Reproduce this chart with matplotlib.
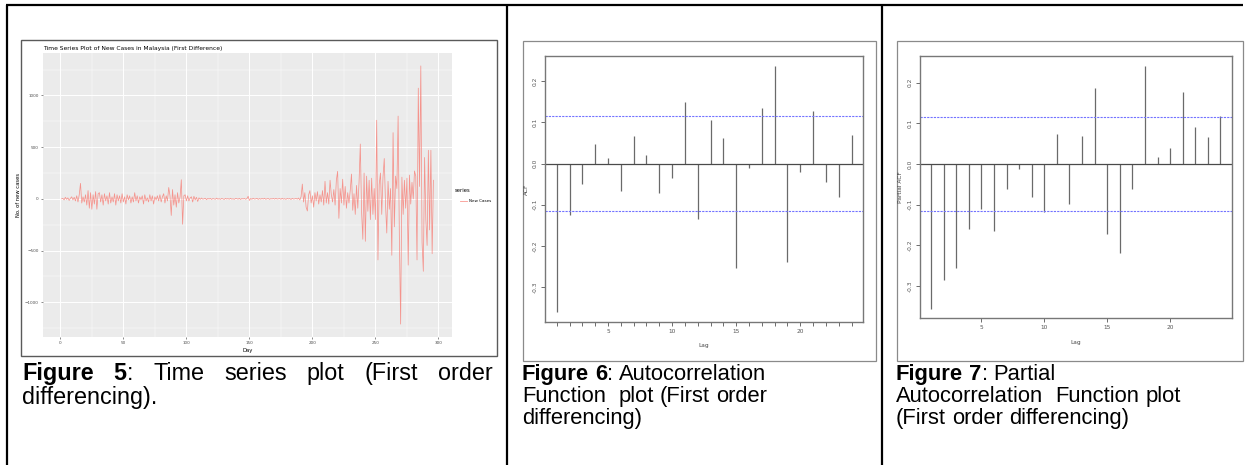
import numpy as np
import matplotlib
matplotlib.use("Agg")
import matplotlib.pyplot as plt
from matplotlib.patches import Rectangle
from matplotlib.ticker import FormatStrFormatter

W, H = 1249, 465

# first difference of daily new cases
new_cases_diff = [
    0, 5, -10, 15, -5, 10, -15, 5, 20, -10, 15, -20, 30,
    -30, 40, 150, -40, 20, -30, 40,
    -60, 80, -90, 60, -100, 40, -50, 70, -100, 50,
    60, -30, 40, -60, 50, -20, 30, -50, 60, -40,
    20, -30, 50, -60, 40, -20, 30, -40, 50, -30,
    20, -50, 40, -10, 30, -40, 20, -30, 60, -20,
    30, -40, 20, -10, 30, -50, 40, -20, 10, -30,
    40, -20, 30, -50, 20, -10, 30, -20, 40, -30,
    20, 50, -40, 30, -20,
    110, 30, -160, 90, -60, 40, -80, 60, -40, 20, 185, -245, 30, 40, -20,
    30, -20, 10, 20, -30, 25, -10, 15, -25, 10,
    -5, 8, -3, 0, 6, -8, 4, -2, 5, -6,
    3, 0, -4, 7, -3, 2, -5, 4, 0, -6,
    5, -2, 3, -4, 6, -3, 1, -5, 4, 2,
    -3, 5, -6, 3, -1, 4, -4, 2, 25, -15,
    3, -4, 6, -2, 0, 5, -5, 3, -3, 4,
    -2, 6, -4, 1, 3, -5, 2, -1, 4, -3,
    5, -2, 0, 3, -4, 6, -3, 2, -5, 4,
    -1, 3, -6, 5, -2, 0, 4, -3, 8, -10,
    20, 143, -30, 60, -80, -117, 40, 80, -40, 30,
    -80, 60, -20, 70, -50, 40, -30, 80, -60, 170,
    -40, 60, -50, 180, 40, -30, 90, -60, 180, 266,
    -188, 100, -40, 190,
    -60, 120, -90, 60, -40, 80, 240, -110, 50, -150,
    130, -90, 160, 530, -120, -390, 250, -410, 220, -120,
    180, -200, 200, -150, 100, -200, 760, -590, 140, 250,
    -150, 210, 390, -50, -330, 170, -100, 100, -545, 640,
    -270, 220, 100, 800, -380, -1210, 210, -150, 180, -90,
    200, -640, 230, -50, 160, 0, 270, 220, -590, 1070,
    120, 1285, -420, -700, 400, -200, -450, 470, -300, 470,
    -530, 180,
]

lags = list(range(1, 25))
acf_vals = [-0.360, -0.125, -0.049, 0.047, 0.014, -0.067, 0.067, 0.021,
            -0.071, -0.034, 0.150, -0.135, 0.105, 0.061, -0.253, -0.011,
            0.135, 0.237, -0.240, -0.020, 0.128, -0.045, -0.081, 0.069]
pacf_vals = [-0.356, -0.286, -0.256, -0.159, -0.110, -0.165, -0.061, -0.013,
             -0.082, -0.118, 0.073, -0.099, 0.070, 0.186, -0.173, -0.218,
             -0.062, 0.242, 0.018, 0.040, 0.177, 0.092, 0.067, 0.119]
ci_bound = 0.115

cap_font = ["Liberation Sans", "DejaVu Sans"]


def px_rect(x0, y0, x1, y1):
    return [x0 / W, 1 - y1 / H, (x1 - x0) / W, (y1 - y0) / H]


fig = plt.figure(figsize=(W / 100, H / 100), dpi=100)
renderer = fig.canvas.get_renderer()
bg = fig.add_axes([0, 0, 1, 1])
bg.set_xlim(0, W)
bg.set_ylim(H, 0)
bg.axis("off")

# table rules
for xs, ys in [([6, 1243], [5.5, 5.5]), ([7, 7], [5, 465]),
               ([507.5, 507.5], [5, 465]), ([882.5, 882.5], [5, 465])]:
    bg.plot(xs, ys, color="black", lw=1.6, solid_capstyle="butt", clip_on=False)

# picture frames
bg.add_patch(Rectangle((21, 40), 476, 316, fill=False, ec="#5a5a5a", lw=1.0))
bg.add_patch(Rectangle((523, 41), 353, 320, fill=False, ec="#8a8a8a", lw=0.9))
bg.add_patch(Rectangle((897, 41), 346, 320, fill=False, ec="#8a8a8a", lw=0.9))


def caption_line(x0, y, words, size, x1=None):
    em = size * 100 / 72
    drawn = []
    for word in words:
        pieces = []
        for s, wt in word:
            t = bg.text(0, y, s, fontsize=size, fontweight=wt, family=cap_font,
                        va="baseline", ha="left", color="black")
            w = t.get_window_extent(renderer).width if s else 0
            pieces.append((t, w))
        drawn.append(pieces)
    widths = [sum(w for _, w in p) for p in drawn]
    if x1 is None:
        gap = 0.278 * em
    else:
        gap = (x1 - x0 - sum(widths)) / (len(words) - 1)
    x = x0
    for pieces, wsum in zip(drawn, widths):
        xx = x
        for t, w in pieces:
            t.set_x(xx)
            xx += w
        x += wsum + gap


def plain(text):
    return [[(w, "normal")] if w else [("", "normal")] for w in text.split(" ")]


# ---- Figure 5: ggplot style time series ----
ax1 = fig.add_axes(px_rect(43, 53, 452, 337))
days = np.arange(1, len(new_cases_diff) + 1)
ax1.plot(days, new_cases_diff, color="#F8766D", lw=0.55, alpha=0.75)
ax1.margins(x=0.05, y=0.05)
ax1.set_facecolor("#EBEBEB")
for s in ax1.spines.values():
    s.set_visible(False)
ax1.set_xticks(range(0, 301, 50))
ax1.set_xticks(range(25, 301, 50), minor=True)
ax1.set_yticks([-1000, -500, 0, 500, 1000])
ax1.set_yticks([-1250, -750, -250, 250, 750, 1250], minor=True)
ax1.grid(which="major", color="white", lw=0.7)
ax1.grid(which="minor", color="white", lw=0.35)
ax1.set_axisbelow(True)
ax1.tick_params(which="major", length=1.5, width=0.4, color="#333333",
                labelsize=3, labelcolor="#4d4d4d", pad=1.5)
ax1.tick_params(which="minor", length=0)
ax1.set_xlabel("Day", fontsize=3.8, labelpad=2)
ax1.set_ylabel("No. of new cases", fontsize=3.8, labelpad=3)
ax1.set_title("Time Series Plot of New Cases in Malaysia (First Difference)",
              loc="left", fontsize=4.3, pad=2)
bg.text(455, 190, "series", fontsize=3.8, va="center", ha="left")
bg.plot([460, 467], [201, 201], color="#F8766D", lw=0.6, alpha=0.75)
bg.text(469, 201, "New Cases", fontsize=3, va="center", ha="left")


def r_corr_panel(rect, vals, ylabel, minor_lags):
    ax = fig.add_axes(rect)
    ax.vlines(lags, 0, vals, color="#6a6a6a", lw=0.9)
    ax.axhline(0, color="#4a4a4a", lw=0.9)
    for b in (ci_bound, -ci_bound):
        ax.axhline(b, color="#7373ff", lw=0.8, ls=(0, (2, 1)))
    ax.margins(x=0.04, y=0.04)
    ax.set_xticks([5, 10, 15, 20])
    if minor_lags:
        ax.set_xticks(lags, minor=True)
    ax.set_yticks([-0.3, -0.2, -0.1, 0.0, 0.1, 0.2])
    ax.yaxis.set_major_formatter(FormatStrFormatter("%.1f"))
    for s in ax.spines.values():
        s.set_color("#777777")
        s.set_linewidth(1.0)
    ax.tick_params(which="both", direction="out", length=3, width=0.6,
                   color="#555555", labelsize=4.2, labelcolor="#555555", pad=2)
    ax.tick_params(axis="y", labelrotation=90)
    for lbl in ax.get_yticklabels():
        lbl.set_va("center")
    ax.set_xlabel("Lag", fontsize=4.2, color="#444444", labelpad=7)
    ax.set_ylabel(ylabel, fontsize=4.2, color="#444444", labelpad=3)
    return ax


r_corr_panel(px_rect(545, 56, 863.3, 321.7), acf_vals, "ACF", True)
r_corr_panel(px_rect(919.5, 56, 1232, 318.3), pacf_vals, "Partial ACF", False)

# captions
caption_line(22, 380, [[("Figure", "bold")], [("5", "bold"), (":", "normal")],
                       [("Time", "normal")], [("series", "normal")],
                       [("plot", "normal")], [("(First", "normal")],
                       [("order", "normal")]], 16.8, x1=493)
caption_line(22, 404, plain("differencing)."), 16.8)

caption_line(522, 380, [[("Figure", "bold")], [("6", "bold"), (":", "normal")],
                        [("Autocorrelation", "normal")]], 15.8)
caption_line(522, 402, plain("Function  plot (First order"), 15.8)
caption_line(522, 424, plain("differencing)"), 15.8)

caption_line(896, 380, [[("Figure", "bold")], [("7", "bold"), (":", "normal")],
                        [("Partial", "normal")]], 15.8)
caption_line(896, 402, plain("Autocorrelation  Function plot"), 15.8)
caption_line(896, 424, plain("(First order differencing)"), 15.8)

fig.savefig("out.png", dpi=100)
